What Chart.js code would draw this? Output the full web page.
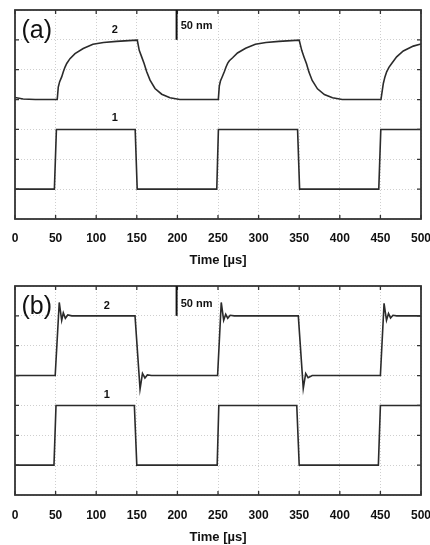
<!DOCTYPE html>
<html>
<head>
<meta charset="utf-8">
<script src="https://cdn.jsdelivr.net/npm/chart.js@4/dist/chart.umd.min.js"></script>
<style>
  body { margin: 0; background: #fff; width: 430px; height: 545px; position: relative; overflow: hidden; }
  canvas { position: absolute; left: 0; }
  #chartA { top: 0; }
  #chartB { top: 272px; }
</style>
</head>
<body>
<canvas id="chartA" width="430" height="272"></canvas>
<canvas id="chartB" width="430" height="273"></canvas>
<script>
// time axis ticks [µs]
const timeTicks = [0, 50, 100, 150, 200, 250, 300, 350, 400, 450, 500];

// (a) trace 2 - slow response
const timeA2 = [0, 10, 25, 52, 53.3, 55, 57.5, 59.5, 61.5, 63.7, 67.7, 73.9, 84, 96, 109, 125, 150,
  150.6, 153, 156, 159, 162.2, 166.3, 172.4, 180.7, 190.9, 203, 220, 250.4,
  251.6, 253, 255.5, 258, 260, 262, 264, 268, 274, 284, 296, 309, 325, 350,
  350.8, 353.2, 356, 359, 362, 366, 372.5, 381, 391, 403, 420, 450.7,
  453.6, 455.5, 457.7, 460.5, 463.9, 470, 478.2, 490.5, 500];
const valA2 = [4.07, 4.02, 4.0, 4.0, 4.42, 4.6, 4.76, 4.93, 5.08, 5.21, 5.37, 5.54, 5.71, 5.85, 5.91, 5.95, 5.99,
  5.99, 5.65, 5.43, 5.21, 4.93, 4.65, 4.37, 4.18, 4.06, 4.0, 4.0, 4.0,
  4.45, 4.62, 4.78, 4.95, 5.1, 5.22, 5.3, 5.4, 5.56, 5.72, 5.85, 5.91, 5.95, 5.99,
  5.99, 5.64, 5.42, 5.2, 4.92, 4.64, 4.36, 4.17, 4.06, 4.0, 4.0, 4.0,
  4.54, 4.75, 4.93, 5.08, 5.21, 5.43, 5.63, 5.79, 5.86];

// (a) trace 1 - drive signal
const timeA1 = [0, 48.5, 51, 148, 150.5, 248.5, 250.5, 348, 350.5, 448, 450.5, 500];
const valA1 = [1, 1, 3, 3, 1, 1, 3, 3, 1, 1, 3, 3];

// (b) trace 2 - fast response with ringing
const timeB2 = [0, 49.5, 54.5, 57.5, 59.5, 62, 65, 70, 147.8, 154, 157, 160, 163, 168,
  249.5, 254, 257, 259.5, 262, 265, 270, 348.9, 355, 358, 361, 366,
  450, 454.5, 457.5, 460, 462.5, 465.5, 470, 500];
const valB2 = [4, 4, 6.45, 5.85, 6.1, 5.92, 6.03, 6.0, 6.0, 3.55, 4.07, 3.92, 4.02, 4.0,
  4.0, 6.45, 5.85, 6.05, 5.92, 6.02, 6.0, 6.0, 3.57, 4.07, 3.93, 4.0,
  4.0, 6.42, 5.85, 6.08, 5.93, 6.02, 6.0, 6.0];

// (b) trace 1 - drive signal
const timeB1 = [0, 48, 50.5, 147, 150, 249, 251, 347, 350, 447.5, 450, 500];
const valB1 = [1, 1, 3, 3, 1, 1, 3, 3, 1, 1, 3, 3];

const FONT = '"Liberation Sans", Arial, sans-serif';
const INK = '#2b2b2b';

function pts(ts, vs) {
  return ts.map((t, i) => ({ x: t, y: vs[i] }));
}

// frame, inward ticks, scale bar and text labels
const decor = {
  id: 'decor',
  afterDatasetsDraw(chart, args, opts) {
    const { ctx, chartArea: a, scales: { x, y } } = chart;
    ctx.save();
    ctx.strokeStyle = '#333';
    ctx.lineWidth = 1.8;
    ctx.strokeRect(a.left, a.top, a.right - a.left, a.bottom - a.top);

    ctx.lineWidth = 1.3;
    ctx.beginPath();
    timeTicks.forEach(t => {
      const px = x.getPixelForValue(t);
      ctx.moveTo(px, a.bottom); ctx.lineTo(px, a.bottom - 4);
      ctx.moveTo(px, a.top); ctx.lineTo(px, a.top + 4);
    });
    for (let v = 1; v < 7; v++) {
      const py = y.getPixelForValue(v);
      ctx.moveTo(a.left, py); ctx.lineTo(a.left + 4, py);
      ctx.moveTo(a.right, py); ctx.lineTo(a.right - 4, py);
    }
    ctx.stroke();

    // 50 nm scale bar (one y unit)
    ctx.strokeStyle = '#111';
    ctx.lineWidth = 2;
    ctx.beginPath();
    ctx.moveTo(x.getPixelForValue(199), y.getPixelForValue(7));
    ctx.lineTo(x.getPixelForValue(199), y.getPixelForValue(6));
    ctx.stroke();

    ctx.fillStyle = '#111';
    ctx.textBaseline = 'middle';
    ctx.textAlign = 'left';
    ctx.font = 'bold 11px ' + FONT;
    ctx.fillText('50 nm', x.getPixelForValue(204), y.getPixelForValue(opts.barTextY));

    ctx.font = '25px ' + FONT;
    ctx.fillText(opts.panel, x.getPixelForValue(8), y.getPixelForValue(6.3));

    ctx.textAlign = 'center';
    ctx.font = 'bold 11px ' + FONT;
    ctx.fillText('2', x.getPixelForValue(opts.labX), y.getPixelForValue(6.32));
    ctx.fillText('1', x.getPixelForValue(opts.labX), y.getPixelForValue(opts.lab1Y));
    ctx.restore();
  }
};

function makePanel(id, trace2, trace1, o) {
  const canvas = document.getElementById(id);
  return new Chart(canvas, {
    type: 'line',
    data: {
      datasets: [
        { data: trace2, borderColor: INK, borderWidth: 1.6, pointRadius: 0, tension: 0 },
        { data: trace1, borderColor: INK, borderWidth: 1.6, pointRadius: 0, tension: 0 }
      ]
    },
    options: {
      responsive: false,
      animation: false,
      events: [],
      layout: { padding: { left: 15, right: 9, top: o.top, bottom: 0 } },
      plugins: {
        legend: { display: false },
        tooltip: { enabled: false },
        decor: o
      },
      scales: {
        x: {
          type: 'linear',
          min: 0, max: 500,
          afterBuildTicks(s) { s.ticks = timeTicks.map(v => ({ value: v })); },
          afterFit(s) { s.height = o.axisH; s.paddingLeft = 0; s.paddingRight = 0; },
          ticks: {
            color: '#111', padding: o.tickPad, maxRotation: 0, autoSkip: false,
            font: { family: FONT, size: 12, weight: 'bold' }
          },
          grid: { color: '#cfcfcf', lineWidth: 1, drawTicks: false },
          border: { display: false, dash: [1, 2] },
          title: {
            display: true, text: 'Time [µs]', color: '#111',
            font: { family: FONT, size: 13, weight: 'bold' },
            padding: { top: 0, bottom: o.titlePad }
          }
        },
        y: {
          min: 0, max: 7,
          ticks: { display: false, stepSize: 1 },
          afterFit(s) { s.width = 0; },
          grid: { color: '#cfcfcf', lineWidth: 1, drawTicks: false },
          border: { display: false, dash: [1, 2] }
        }
      }
    },
    plugins: [decor]
  });
}

makePanel('chartA', pts(timeA2, valA2), pts(timeA1, valA1),
  { panel: '(a)', top: 10, axisH: 53, tickPad: 12, titlePad: 4, barTextY: 6.48, labX: 123, lab1Y: 3.38 });
makePanel('chartB', pts(timeB2, valB2), pts(timeB1, valB1),
  { panel: '(b)', top: 14, axisH: 50, tickPad: 13, titlePad: 0, barTextY: 6.4, labX: 113, lab1Y: 3.34 });
</script>
</body>
</html>
